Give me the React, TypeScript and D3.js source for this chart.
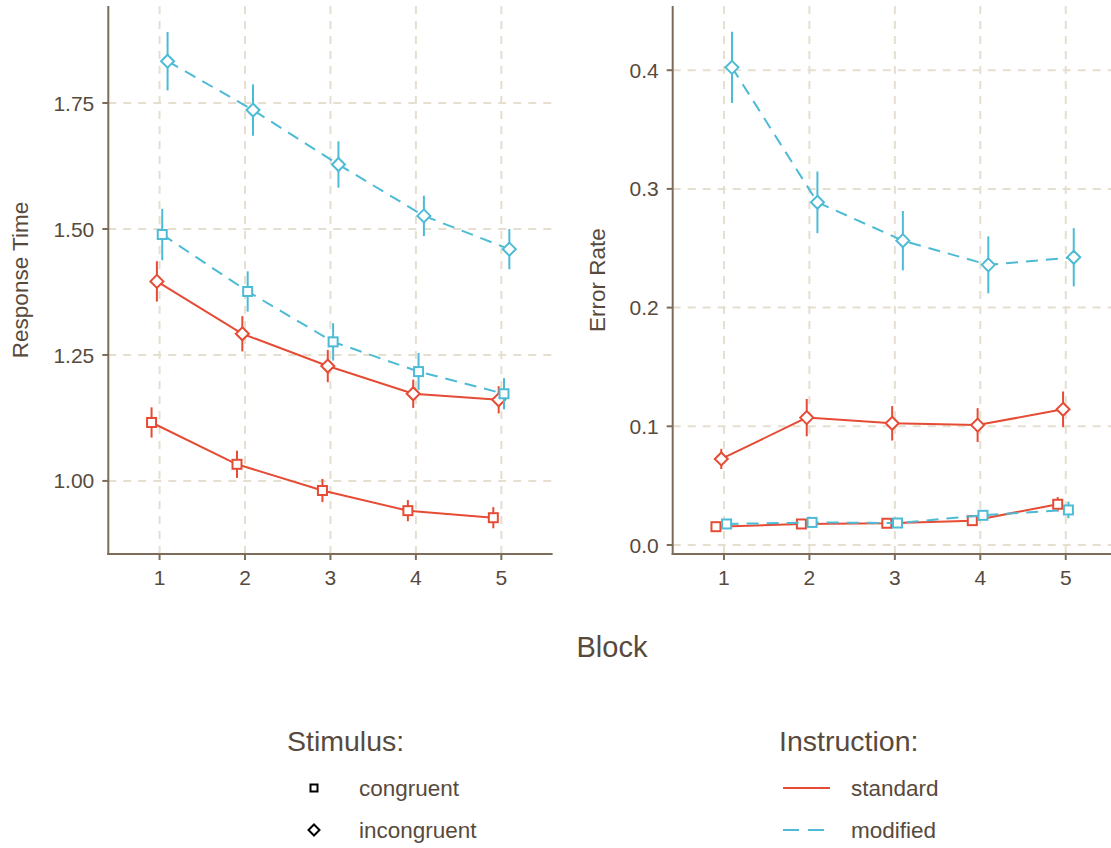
import React, { useRef, useEffect } from "react";
import * as d3 from "d3";

const blocks = [1, 2, 3, 4, 5];

// Response Time: means and half error bars
const rtStdCong = [1.116, 1.033, 0.981, 0.941, 0.927];
const rtStdCongErr = [0.03, 0.027, 0.023, 0.021, 0.021];
const rtStdIncong = [1.396, 1.292, 1.228, 1.173, 1.161];
const rtStdIncongErr = [0.04, 0.035, 0.032, 0.028, 0.027];
const rtModCong = [1.489, 1.376, 1.276, 1.217, 1.173];
const rtModCongErr = [0.051, 0.04, 0.037, 0.037, 0.031];
const rtModIncong = [1.833, 1.736, 1.628, 1.526, 1.46];
const rtModIncongErr = [0.058, 0.051, 0.046, 0.04, 0.04];

// Error Rate: means and half error bars
const erStdCong = [0.0154, 0.0177, 0.0183, 0.0205, 0.0343];
const erStdCongErr = [0.002, 0.002, 0.002, 0.002, 0.006];
const erStdIncong = [0.0725, 0.1073, 0.1025, 0.101, 0.1143];
const erStdIncongErr = [0.0085, 0.0157, 0.0145, 0.0143, 0.015];
const erModCong = [0.0177, 0.019, 0.0185, 0.025, 0.0295];
const erModCongErr = [0.002, 0.002, 0.002, 0.004, 0.007];
const erModIncong = [0.4024, 0.2887, 0.2564, 0.236, 0.2424];
const erModIncongErr = [0.03, 0.026, 0.025, 0.024, 0.0245];

const rtTicks = [1.0, 1.25, 1.5, 1.75];
const erTicks = [0, 0.1, 0.2, 0.3, 0.4];

const stimulusLevels = ["congruent", "incongruent"];
const instructionLevels = ["standard", "modified"];

const RED = "#E64B35";
const BLUE = "#4DBBD5";
const TEXT = "#574a3d";
const AXIS = "#7d6c5a";
const GRID = "#e6dfcf";
const FONT = "'Liberation Sans', Arial, sans-serif";

const App = () => {
  const svgRef = useRef<SVGSVGElement>(null);

  useEffect(() => {
    document.body.style.margin = "0";
    const svg = d3.select(svgRef.current);
    svg.selectAll("*").remove();

    const top = 6;
    const bottom = 554;

    const panels = [
      {
        x0: 108.3, x1: 552.6, domain: [0.855, 1.9425], ticks: rtTicks, fmt: d3.format(".2f"),
        title: "Response Time", titleX: 20,
        series: [
          { instr: "standard", stim: "congruent", vals: rtStdCong, errs: rtStdCongErr },
          { instr: "standard", stim: "incongruent", vals: rtStdIncong, errs: rtStdIncongErr },
          { instr: "modified", stim: "congruent", vals: rtModCong, errs: rtModCongErr },
          { instr: "modified", stim: "incongruent", vals: rtModIncong, errs: rtModIncongErr }
        ]
      },
      {
        x0: 672.7, x1: 1117, domain: [-0.0076, 0.4541], ticks: erTicks, fmt: d3.format(".1f"),
        title: "Error Rate", titleX: 597,
        series: [
          { instr: "standard", stim: "congruent", vals: erStdCong, errs: erStdCongErr },
          { instr: "standard", stim: "incongruent", vals: erStdIncong, errs: erStdIncongErr },
          { instr: "modified", stim: "congruent", vals: erModCong, errs: erModCongErr },
          { instr: "modified", stim: "incongruent", vals: erModIncong, errs: erModIncongErr }
        ]
      }
    ];

    const color = d3.scaleOrdinal<string, string>().domain(instructionLevels).range([RED, BLUE]);
    const dash = d3.scaleOrdinal<string, string>().domain(instructionLevels).range(["none", "12 8"]);
    const dodgeWidth = 0.25;

    const square = (g, x, y, s, stroke, fill) =>
      g.append("rect")
        .attr("x", x - s / 2).attr("y", y - s / 2)
        .attr("width", s).attr("height", s)
        .attr("fill", fill).attr("stroke", stroke).attr("stroke-width", 2);

    const diamond = (g, x, y, r, stroke, fill) =>
      g.append("path")
        .attr("d", `M${x},${y - r}L${x + r},${y}L${x},${y + r}L${x - r},${y}Z`)
        .attr("fill", fill).attr("stroke", stroke).attr("stroke-width", 2);

    panels.forEach(p => {
      const x = d3.scaleLinear().domain([0.4, 5.6]).range([p.x0, p.x1]);
      const y = d3.scaleLinear().domain(p.domain).range([bottom, top]);
      const g = svg.append("g");

      // grid
      g.selectAll(".vgrid").data(blocks).enter().append("line")
        .attr("x1", d => x(d)).attr("x2", d => x(d)).attr("y1", top).attr("y2", bottom)
        .attr("stroke", GRID).attr("stroke-width", 2).attr("stroke-dasharray", "8 7");
      g.selectAll(".hgrid").data(p.ticks).enter().append("line")
        .attr("x1", p.x0).attr("x2", p.x1).attr("y1", d => y(d)).attr("y2", d => y(d))
        .attr("stroke", GRID).attr("stroke-width", 2).attr("stroke-dasharray", "8 7");

      // axes
      g.append("line").attr("x1", p.x0).attr("x2", p.x0).attr("y1", top).attr("y2", bottom + 1)
        .attr("stroke", AXIS).attr("stroke-width", 2);
      g.append("line").attr("x1", p.x0 - 1).attr("x2", p.x1).attr("y1", bottom).attr("y2", bottom)
        .attr("stroke", AXIS).attr("stroke-width", 2);

      g.selectAll(".ytick").data(p.ticks).enter().append("line")
        .attr("x1", p.x0 - 6).attr("x2", p.x0).attr("y1", d => y(d)).attr("y2", d => y(d))
        .attr("stroke", AXIS).attr("stroke-width", 2);
      g.selectAll(".ylab").data(p.ticks).enter().append("text")
        .attr("x", p.x0 - 14).attr("y", d => y(d)).attr("dy", "0.36em")
        .attr("text-anchor", "end").style("font-family", FONT).style("font-size", "21px")
        .attr("fill", TEXT).text(d => p.fmt(d));

      g.selectAll(".xtick").data(blocks).enter().append("line")
        .attr("x1", d => x(d)).attr("x2", d => x(d)).attr("y1", bottom).attr("y2", bottom + 6)
        .attr("stroke", AXIS).attr("stroke-width", 2);
      g.selectAll(".xlab").data(blocks).enter().append("text")
        .attr("x", d => x(d)).attr("y", 585)
        .attr("text-anchor", "middle").style("font-family", FONT).style("font-size", "21px")
        .attr("fill", TEXT).text(d => d);

      g.append("text")
        .attr("transform", `translate(${p.titleX},${(top + bottom) / 2}) rotate(-90)`)
        .attr("text-anchor", "middle").attr("dy", "0.35em")
        .style("font-family", FONT).style("font-size", "22.5px").attr("fill", TEXT)
        .text(p.title);

      // series
      p.series.forEach((s, i) => {
        const off = (i - 1.5) * dodgeWidth / 4;
        const c = color(s.instr);
        const pts = blocks.map((b, j) => ({ x: b + off, v: s.vals[j], e: s.errs[j] }));

        const line = d3.line<{ x: number; v: number }>().x(d => x(d.x)).y(d => y(d.v));
        g.append("path").datum(pts).attr("d", line)
          .attr("fill", "none").attr("stroke", c).attr("stroke-width", 2)
          .attr("stroke-dasharray", dash(s.instr));

        g.selectAll(null).data(pts).enter().append("line")
          .attr("x1", d => x(d.x)).attr("x2", d => x(d.x))
          .attr("y1", d => y(d.v - d.e)).attr("y2", d => y(d.v + d.e))
          .attr("stroke", c).attr("stroke-width", 2);

        pts.forEach(d => {
          if (s.stim === "congruent") square(g, x(d.x), y(d.v), 9, c, "white");
          else diamond(g, x(d.x), y(d.v), 6.5, c, "white");
        });
      });
    });

    // shared x title
    svg.append("text").attr("x", 612).attr("y", 657).attr("text-anchor", "middle")
      .style("font-family", FONT).style("font-size", "29px").attr("fill", TEXT).text("Block");

    // legends
    const leg = svg.append("g");
    leg.append("text").attr("x", 287).attr("y", 751)
      .style("font-family", FONT).style("font-size", "28.5px").attr("fill", TEXT).text("Stimulus:");
    leg.append("text").attr("x", 779).attr("y", 751)
      .style("font-family", FONT).style("font-size", "28.5px").attr("fill", TEXT).text("Instruction:");

    const rowY = [788, 830];
    stimulusLevels.forEach((lv, i) => {
      if (lv === "congruent") square(leg, 314, rowY[i], 7, "black", "white");
      else diamond(leg, 314, rowY[i], 5.5, "black", "white");
      leg.append("text").attr("x", 359).attr("y", rowY[i]).attr("dy", "0.35em")
        .style("font-family", FONT).style("font-size", "22.5px").attr("fill", TEXT).text(lv);
    });
    instructionLevels.forEach((lv, i) => {
      leg.append("line").attr("x1", 783).attr("x2", 830).attr("y1", rowY[i]).attr("y2", rowY[i])
        .attr("stroke", color(lv)).attr("stroke-width", 2).attr("stroke-dasharray", dash(lv) === "none" ? null : "16 9");
      leg.append("text").attr("x", 851).attr("y", rowY[i]).attr("dy", "0.35em")
        .style("font-family", FONT).style("font-size", "22.5px").attr("fill", TEXT).text(lv);
    });
  }, []);

  return <svg ref={svgRef} width={1111} height={848} style={{ display: "block", background: "white" }}></svg>;
};

export default App;
